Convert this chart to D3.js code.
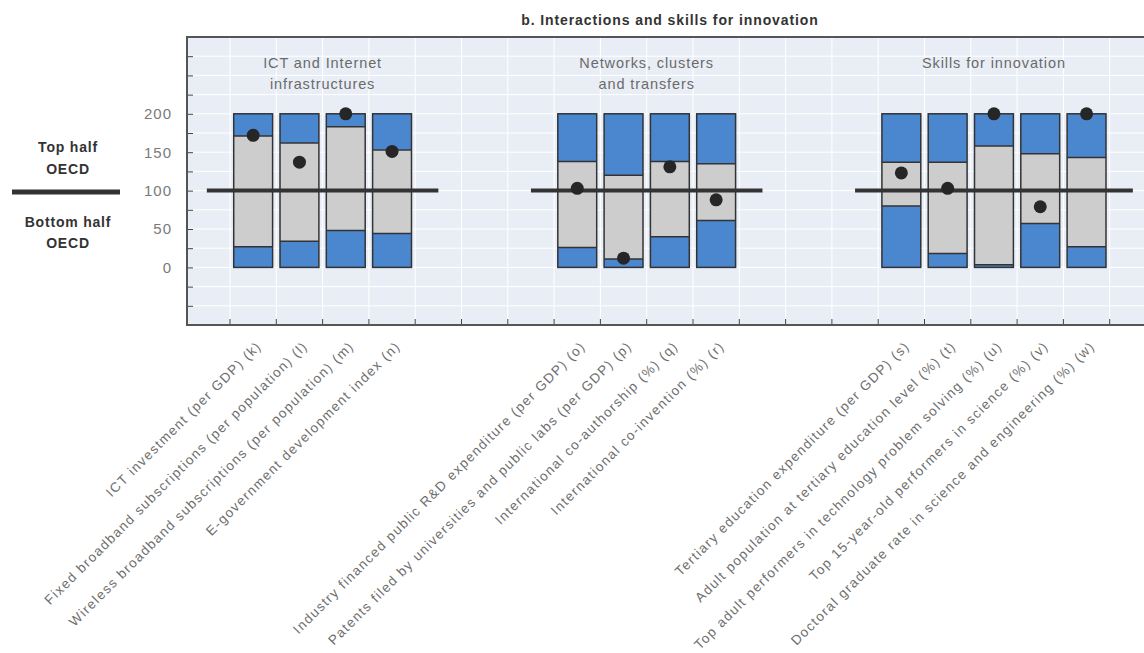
<!DOCTYPE html>
<html><head><meta charset="utf-8">
<script src="https://cdn.jsdelivr.net/npm/d3@7"></script>
<style>
html,body{margin:0;padding:0;background:#fff;}
svg{display:block;}
</style></head>
<body>
<script>
// ---- data ----
const title = "b. Interactions and skills for innovation";
const groupTitles = [["ICT and Internet","infrastructures"],["Networks, clusters","and transfers"],["Skills for innovation"]];
const groupCodes = [["k","l","m","n"],["o","p","q","r"],["s","t","u","v","w"]];
const categories = [
 "ICT investment (per GDP) (k)",
 "Fixed broadband subscriptions (per population) (l)",
 "Wireless broadband subscriptions (per population) (m)",
 "E-government development index (n)",
 "Industry financed public R&D expenditure (per GDP) (o)",
 "Patents filed by universities and public labs (per GDP) (p)",
 "International co-authorship (%) (q)",
 "International co-invention (%) (r)",
 "Tertiary education expenditure (per GDP) (s)",
 "Adult population at tertiary education level (%) (t)",
 "Top adult performers in technology problem solving (%) (u)",
 "Top 15-year-old performers in science (%) (v)",
 "Doctoral graduate rate in science and engineering (%) (w)"
];
const codes = ["k","l","m","n","o","p","q","r","s","t","u","v","w"];
const lowValues  = [27, 34, 48, 44, 26, 11, 40, 61, 80, 18, 3.5, 57, 27];
const highValues = [171, 162, 183, 153, 138, 120, 138, 135, 137, 137, 158, 148, 143];
const dotValues  = [172, 137, 200, 151, 103, 12, 131, 88, 123, 103, 200, 79, 200];
const minValue = 0, maxValue = 200, medianValue = 100;
const yTickLabels = [0, 50, 100, 150, 200];
const slots = ["_a","k","l","m","n","_b","_c","_d","o","p","q","r","_e","_f","_g","s","t","u","v","w","_h"];

// ---- layout ----
const W = 1144, H = 653;
const pL = 187, pT = 37, pB = 325;
const slotW = 46.3;
const x0 = 183.7;
const svg = d3.select("body").append("svg").attr("width", W).attr("height", H);

const x = d3.scaleBand().domain(slots).range([x0, x0 + slots.length * slotW]).paddingInner(0.16).paddingOuter(0.08);
const y = d3.scaleLinear().domain([-75, 300]).range([pB, pT]);
const pR = W + 20;

const FONT = "'Liberation Sans Narrow','Arial Narrow','Liberation Sans',sans-serif";

// background
svg.append("rect").attr("x", pL).attr("y", pT).attr("width", pR - pL).attr("height", pB - pT).attr("fill", "#e9eef6");

// grid
const gridVals = d3.range(-50, 300, 25);
svg.append("g").selectAll("line").data(gridVals).join("line")
  .attr("x1", pL).attr("x2", pR).attr("y1", d => y(d)).attr("y2", d => y(d))
  .attr("stroke", "#fff").attr("stroke-width", 1);
const boundaries = slots.slice(1).map(s => x(s) - x.step() * x.paddingInner() / 2);
svg.append("g").selectAll("line").data(boundaries).join("line")
  .attr("x1", d => d).attr("x2", d => d).attr("y1", pT).attr("y2", pB)
  .attr("stroke", "#fff").attr("stroke-width", 1);

// left axis
const yAxis = d3.axisLeft(y).tickValues(d3.range(-75, 301, 25)).tickSize(-6)
  .tickFormat(d => yTickLabels.includes(d) ? d : "").tickPadding(15);
const ga = svg.append("g").attr("transform", `translate(${pL},0)`).call(yAxis);
ga.select(".domain").remove();
ga.selectAll(".tick line").attr("stroke", "#444").attr("stroke-width", 1);
ga.selectAll(".tick text").attr("fill", "#7a7a7a").style("font-family", FONT).style("font-size", "15px").style("letter-spacing", "1px");

// bottom axis ticks
const gb = svg.append("g").attr("transform", `translate(0,${pB})`);
gb.selectAll("line").data(boundaries).join("line")
  .attr("x1", d => d).attr("x2", d => d).attr("y1", 0).attr("y2", -6)
  .attr("stroke", "#444").attr("stroke-width", 1);

// frame lines
svg.append("line").attr("x1", pL).attr("x2", pR).attr("y1", pT).attr("y2", pT).attr("stroke", "#555").attr("stroke-width", 2);
svg.append("line").attr("x1", pL).attr("x2", pL).attr("y1", pT - 1).attr("y2", pB + 1).attr("stroke", "#555").attr("stroke-width", 2);
svg.append("line").attr("x1", pL).attr("x2", pR).attr("y1", pB).attr("y2", pB).attr("stroke", "#555").attr("stroke-width", 2);

// bars
const data = codes.map((c, i) => ({code: c, low: lowValues[i], high: highValues[i], dot: dotValues[i], label: categories[i]}));
const BLUE = "#4a87cf", GREY = "#cdcdcd", DARK = "#333";
const bars = svg.append("g").selectAll("g").data(data).join("g");
bars.append("rect").attr("x", d => x(d.code)).attr("width", x.bandwidth())
  .attr("y", d => y(maxValue)).attr("height", d => y(d.high) - y(maxValue)).attr("fill", BLUE);
bars.append("rect").attr("x", d => x(d.code)).attr("width", x.bandwidth())
  .attr("y", d => y(d.high)).attr("height", d => y(d.low) - y(d.high)).attr("fill", GREY);
bars.append("rect").attr("x", d => x(d.code)).attr("width", x.bandwidth())
  .attr("y", d => y(d.low)).attr("height", d => y(minValue) - y(d.low)).attr("fill", BLUE);
bars.append("line").attr("x1", d => x(d.code)).attr("x2", d => x(d.code) + x.bandwidth())
  .attr("y1", d => y(d.high)).attr("y2", d => y(d.high)).attr("stroke", DARK).attr("stroke-width", 1.5);
bars.append("line").attr("x1", d => x(d.code)).attr("x2", d => x(d.code) + x.bandwidth())
  .attr("y1", d => y(d.low)).attr("y2", d => y(d.low)).attr("stroke", DARK).attr("stroke-width", 1.5);
bars.append("rect").attr("x", d => x(d.code)).attr("width", x.bandwidth())
  .attr("y", d => y(maxValue)).attr("height", d => y(minValue) - y(maxValue))
  .attr("fill", "none").attr("stroke", DARK).attr("stroke-width", 1.5);

// median lines per group
groupCodes.forEach(g => {
  const a = x(g[0]) + x.bandwidth()/2 - x.step();
  const b = x(g[g.length-1]) + x.bandwidth()/2 + x.step();
  svg.append("line").attr("x1", a).attr("x2", b).attr("y1", y(medianValue)).attr("y2", y(medianValue))
    .attr("stroke", "#333").attr("stroke-width", 4);
});

// dots
svg.append("g").selectAll("circle").data(data).join("circle")
  .attr("cx", d => x(d.code) + x.bandwidth()/2).attr("cy", d => y(d.dot))
  .attr("r", 6.5).attr("fill", "#262626");

// group titles
groupCodes.forEach((g, gi) => {
  const cx = (x(g[0]) + x(g[g.length-1]) + x.bandwidth()) / 2;
  const t = svg.append("text").attr("x", cx).attr("y", 68).attr("text-anchor", "middle")
    .attr("fill", "#6a6a6a").style("font-family", FONT).style("font-size", "14.5px").style("letter-spacing", "0.9px");
  groupTitles[gi].forEach((line, li) => {
    t.append("tspan").attr("x", cx).attr("dy", li === 0 ? 0 : 21).text(line);
  });
});

// x labels
svg.append("g").selectAll("text").data(data).join("text")
  .attr("transform", d => `translate(${x(d.code) + x.bandwidth()/2 + 9},${pB + 22}) rotate(-45)`)
  .attr("text-anchor", "end")
  .attr("fill", "#6e6e6e").style("font-family", FONT).style("font-size", "13.5px").style("letter-spacing", "1.35px")
  .text(d => d.label);

// title
svg.append("text").attr("x", 670).attr("y", 25).attr("text-anchor", "middle")
  .attr("fill", "#333").style("font-family", FONT).style("font-weight", "bold").style("font-size", "14px").style("letter-spacing", "0.9px")
  .text(title);

// left legend labels
const lg = svg.append("g").style("font-family", FONT).style("font-weight", "bold").style("font-size", "14px").style("letter-spacing", "0.8px").attr("fill", "#333");
[["Top half", 152], ["OECD", 174], ["Bottom half", 227], ["OECD", 248]].forEach(([t, yy]) => {
  lg.append("text").attr("x", 68).attr("y", yy).attr("text-anchor", "middle").text(t);
});
svg.append("line").attr("x1", 12).attr("x2", 120).attr("y1", 192).attr("y2", 192).attr("stroke", "#333").attr("stroke-width", 5);
</script>
</body></html>
